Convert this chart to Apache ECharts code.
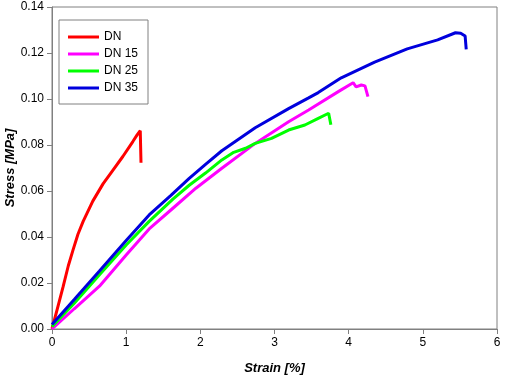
<!DOCTYPE html>
<html>
<head>
<meta charset="utf-8">
<script src="https://cdn.jsdelivr.net/npm/echarts@6/dist/echarts.min.js"></script>
<style>html,body{margin:0;padding:0;background:#fff}#c{width:505px;height:376px}</style>
</head>
<body>
<div id="c"></div>
<script>
var seriesNames = ['DN', 'DN 15', 'DN 25', 'DN 35'];
var xTicks = [0, 1, 2, 3, 4, 5, 6];
var yTicks = [0, 0.02, 0.04, 0.06, 0.08, 0.10, 0.12, 0.14];

var dn = [[0,0],[0.07,0.0085],[0.15,0.0184],[0.22,0.0275],[0.285,0.0345],[0.35,0.0412],[0.42,0.0468],[0.55,0.0556],[0.69,0.0632],[0.82,0.069],[0.955,0.075],[1.09,0.0815],[1.15,0.0845],[1.19,0.0862],[1.2,0.0723]];
var dn15 = [[0,0],[0.3,0.0088],[0.64,0.0186],[1.0,0.0322],[1.31,0.0435],[1.63,0.0525],[1.94,0.0612],[2.29,0.0699],[2.74,0.0807],[3.19,0.0901],[3.46,0.0952],[3.86,0.1032],[4.06,0.1071],[4.1,0.1053],[4.17,0.1061],[4.22,0.1057],[4.24,0.1061],[4.26,0.101]];
var dn25 = [[0,0.001],[0.3,0.0112],[0.64,0.0236],[1.0,0.0365],[1.31,0.0468],[1.63,0.0565],[1.85,0.0625],[2.07,0.0678],[2.29,0.0735],[2.45,0.0768],[2.61,0.0786],[2.74,0.0807],[2.96,0.0829],[3.19,0.0865],[3.41,0.0887],[3.59,0.0916],[3.73,0.0938],[3.76,0.0888]];
var dn35 = [[0,0.002],[0.3,0.0128],[0.64,0.0252],[1.0,0.0385],[1.31,0.0496],[1.6,0.058],[1.85,0.0655],[2.07,0.0716],[2.29,0.0775],[2.74,0.0875],[3.19,0.0958],[3.46,0.1005],[3.59,0.1028],[3.9,0.1092],[4.35,0.116],[4.79,0.1218],[5.2,0.1257],[5.44,0.1288],[5.51,0.1286],[5.57,0.1274],[5.585,0.1216]];

var colors = ['#ff0000', '#ff00ff', '#00ff00', '#0000dd'];
var allData = [dn, dn15, dn25, dn35];
var font = 'Liberation Sans, Arial, sans-serif';

var chart = echarts.init(document.getElementById('c'), null, {renderer: 'canvas'});
chart.setOption({
  animation: false,
  backgroundColor: '#ffffff',
  grid: {left: 52, right: 8, top: 7, bottom: 47, containLabel: false, outerBoundsMode: 'none', show: true, borderColor: '#808080', borderWidth: 1, backgroundColor: 'transparent'},
  legend: {
    orient: 'vertical', left: 59, top: 20,
    data: seriesNames.map(function (n) { return {name: n, icon: 'path://M0,0 L31,0 L31,3 L0,3 Z'}; }),
    itemWidth: 31, itemHeight: 12, itemGap: 5,
    padding: [11, 10, 10, 9],
    borderColor: '#808080', borderWidth: 1,
    textStyle: {fontFamily: font, fontSize: 12, color: '#000'}
  },
  xAxis: {
    type: 'value', min: xTicks[0], max: xTicks[xTicks.length - 1], interval: 1,
    name: 'Strain [%]', nameLocation: 'middle', nameGap: 33, nameMoveOverlap: false,
    nameTextStyle: {fontFamily: font, fontSize: 13, fontWeight: 'bold', fontStyle: 'italic', color: '#000'},
    axisLine: {show: true, lineStyle: {color: '#808080', width: 1}},
    axisTick: {show: true, inside: false, length: 5, lineStyle: {color: '#808080'}},
    axisLabel: {fontFamily: font, fontSize: 12, color: '#000', margin: 8},
    splitLine: {show: false}
  },
  yAxis: {
    type: 'value', min: yTicks[0], max: yTicks[yTicks.length - 1], interval: 0.02,
    name: 'Stress [MPa]', nameLocation: 'middle', nameGap: 35, nameRotate: 90, nameMoveOverlap: false,
    nameTextStyle: {fontFamily: font, fontSize: 13, fontWeight: 'bold', fontStyle: 'italic', color: '#000'},
    axisLine: {show: true, lineStyle: {color: '#808080', width: 1}},
    axisTick: {show: true, inside: false, length: 5, lineStyle: {color: '#808080'}},
    axisLabel: {fontFamily: font, fontSize: 12, color: '#000', margin: 8, formatter: function (v) { return v.toFixed(2); }},
    splitLine: {show: false}
  },
  series: seriesNames.map(function (n, i) {
    return {
      name: n, type: 'line', data: allData[i], symbol: 'none', smooth: false,
      lineStyle: {color: colors[i], width: 3}, itemStyle: {color: colors[i]}
    };
  })
});
</script>
</body>
</html>
